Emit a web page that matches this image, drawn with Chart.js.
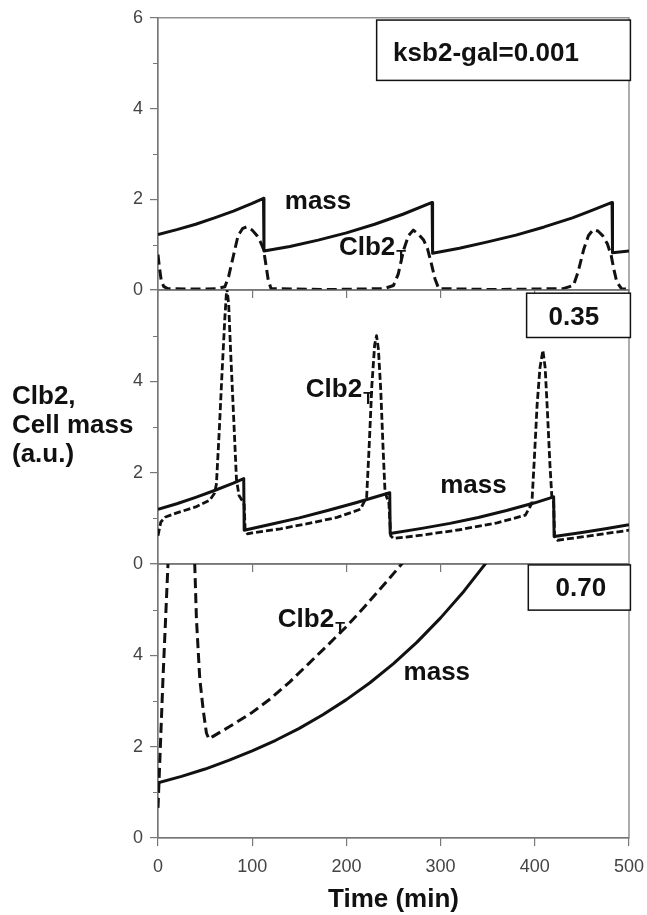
<!DOCTYPE html>
<html>
<head>
<meta charset="utf-8">
<script src="https://cdn.jsdelivr.net/npm/chart.js@4.4.1/dist/chart.umd.min.js"></script>
<style>
  html, body { margin: 0; padding: 0; background: #fff; }
  #wrap { position: relative; width: 647px; height: 915px; }
  #wrap canvas { position: absolute; left: 0; top: 0; }
  #ytitle {
    position: absolute; left: 12px; top: 381px;
    font: bold 26px 'Liberation Sans', Arial, sans-serif;
    line-height: 29px; color: #111;
  }
</style>
</head>
<body>
<div id="wrap">
  <canvas id="panelA" width="647" height="915"></canvas>
  <canvas id="panelB" width="647" height="915"></canvas>
  <canvas id="panelC" width="647" height="915"></canvas>
  <div id="ytitle">Clb2,<br>Cell mass<br>(a.u.)</div>
</div>
<script>
const FONT = "'Liberation Sans', Arial, sans-serif";

// axis ticks shared by the three panels
const timeTicks = [0, 100, 200, 300, 400, 500];
const yLabelTicks = [0, 2, 4, 6];
const yMinorTicks = [1, 3, 5];

// panel A: ksb2-gal = 0.001
const massTimeA = [0, 20, 40, 60, 80, 100, 112, 112.5, 140, 170, 200, 230, 260, 291, 291.5, 320, 350, 380, 410, 440, 460, 482, 482.5, 500];
const massA = [1.22, 1.33, 1.45, 1.59, 1.74, 1.91, 2.02, 0.86, 0.96, 1.10, 1.26, 1.45, 1.67, 1.93, 0.81, 0.92, 1.06, 1.21, 1.39, 1.59, 1.75, 1.93, 0.82, 0.86];
const clbTimeA = [0, 1.5, 3.5, 6, 10, 40, 62, 71, 75, 80, 85, 90, 94, 100, 105, 109, 112, 115, 117, 120,
  180, 240, 250, 255, 261, 266, 271, 277, 282, 286, 290, 294, 298, 360, 430, 441, 446, 452, 457, 462, 467, 472, 477, 481, 484, 487, 492, 500];
const clbA = [0.78, 0.5, 0.2, 0.08, 0.03, 0.02, 0.03, 0.07, 0.3, 0.75, 1.2, 1.36, 1.39, 1.32, 1.2, 1.05, 0.9, 0.5, 0.22, 0.03,
  0.01, 0.03, 0.1, 0.35, 0.9, 1.2, 1.32, 1.22, 1.1, 0.92, 0.6, 0.25, 0.03, 0.01, 0.03, 0.1, 0.4, 0.9, 1.2, 1.33, 1.3, 1.2, 1.02, 0.77, 0.45, 0.18, 0.03, 0.02];

// panel B: 0.35
const massTimeB = [0, 20, 40, 60, 80, 91, 91.5, 120, 150, 180, 210, 246, 246.5, 280, 310, 340, 370, 400, 420, 420.5, 450, 475, 500];
const massB = [1.2, 1.32, 1.46, 1.61, 1.77, 1.87, 0.74, 0.87, 1.01, 1.17, 1.34, 1.56, 0.67, 0.78, 0.89, 1.02, 1.17, 1.34, 1.47, 0.6, 0.69, 0.77, 0.86];
const clbTimeB = [0, 3, 8, 20, 40, 55, 60, 62, 65, 68, 71, 73, 75, 77, 79, 81, 83.3, 86, 89, 91.5, 92.5, 95, 100, 130, 160,
  190, 215, 221.5, 224, 227, 230, 232, 234, 236.5, 239, 241, 243, 245, 247, 250,
  280, 320, 360, 390, 396.9, 399.5, 402.5, 405.5, 408.6, 411, 413.5, 416, 418.1, 420, 421, 424, 460, 500];
const clbB = [0.62, 0.92, 1.03, 1.12, 1.25, 1.4, 1.55, 1.75, 2.9, 4.2, 5.4, 6.05, 5.7, 4.7, 3.8, 2.9, 1.85, 1.5, 1.4, 1.3, 0.75, 0.66, 0.68, 0.77, 0.89,
  1.02, 1.2, 1.47, 2.5, 3.9, 4.8, 5.0, 4.7, 3.8, 2.5, 1.58, 1.45, 1.38, 0.62, 0.56,
  0.63, 0.75, 0.9, 1.07, 1.33, 2.3, 3.5, 4.3, 4.68, 4.3, 3.3, 2.2, 1.47, 1.35, 0.6, 0.52, 0.62, 0.74];

// panel C: 0.70
const massTimeC = [0, 25, 50, 75, 100, 125, 150, 175, 200, 225, 250, 275, 300, 325, 350, 375];
const massC = [1.21, 1.35, 1.51, 1.70, 1.91, 2.14, 2.40, 2.70, 3.03, 3.40, 3.82, 4.29, 4.82, 5.41, 6.07, 6.8];
const clbTimeC = [0, 5.3, 10.6, 15, 22, 30, 36, 39, 40.8, 44.3, 48, 51.4, 54, 58, 76, 100, 120, 140, 160, 180, 200, 220, 240, 260, 275];
const clbC = [0.66, 3.5, 6.0, 7.6, 8.4, 8.0, 6.9, 6.0, 4.8, 3.5, 2.8, 2.3, 2.17, 2.22, 2.44, 2.75, 3.06, 3.42, 3.82, 4.22, 4.63, 5.08, 5.55, 6.03, 6.42];

function zip(xs, ys) {
  return xs.map((t, i) => ({ x: t, y: ys[i] }));
}

// frame, short minor ticks, in-plot labels and the parameter box
const panelNotes = {
  id: 'panelNotes',
  beforeDatasetsDraw(chart) {
    const { ctx, chartArea: a, scales: { y } } = chart;
    ctx.save();
    ctx.strokeStyle = '#777';
    ctx.lineWidth = 1.2;
    ctx.strokeRect(a.left, a.top, a.right - a.left, a.bottom - a.top);
    ctx.beginPath();
    yMinorTicks.forEach(v => {
      const py = Math.round(y.getPixelForValue(v)) + 0.5;
      ctx.moveTo(a.left - 5, py);
      ctx.lineTo(a.left, py);
    });
    ctx.stroke();
    ctx.restore();
  },
  afterDatasetsDraw(chart, args, opts) {
    const { ctx, scales: { x, y } } = chart;
    ctx.save();
    ctx.textAlign = 'left';
    ctx.textBaseline = 'alphabetic';
    ctx.fillStyle = '#111';
    (opts.labels || []).forEach(l => {
      const px = x.getPixelForValue(l.x);
      const py = y.getPixelForValue(l.y);
      ctx.font = 'bold 26px ' + FONT;
      ctx.fillText(l.text, px, py);
      if (l.sub) {
        const w = ctx.measureText(l.text).width;
        ctx.font = 'bold 16px ' + FONT;
        ctx.fillText(l.sub, px + w + 1, py + 7);
      }
    });
    const b = opts.box;
    if (b) {
      const x0 = x.getPixelForValue(b.x0), x1 = x.getPixelForValue(b.x1);
      const y0 = y.getPixelForValue(b.top), y1 = y.getPixelForValue(b.bottom);
      ctx.fillStyle = '#fff';
      ctx.fillRect(x0, y0, x1 - x0, y1 - y0);
      ctx.strokeStyle = '#111';
      ctx.lineWidth = 1.5;
      ctx.strokeRect(x0, y0, x1 - x0, y1 - y0);
      ctx.fillStyle = '#111';
      ctx.font = 'bold 26px ' + FONT;
      ctx.fillText(b.text, x.getPixelForValue(b.tx), y.getPixelForValue(b.ty));
    }
    ctx.restore();
  }
};

function makePanel(id, p) {
  return new Chart(document.getElementById(id), {
    type: 'line',
    data: {
      datasets: [
        {
          label: 'mass',
          data: zip(p.massT, p.mass),
          borderColor: '#111',
          borderWidth: 3,
          pointRadius: 0,
          tension: 0,
          borderJoinStyle: 'round'
        },
        {
          label: 'Clb2T',
          data: zip(p.clbT, p.clb),
          borderColor: '#111',
          borderWidth: p.dashWidth,
          borderDash: p.dash,
          pointRadius: 0,
          tension: 0,
          borderJoinStyle: 'round'
        }
      ]
    },
    options: {
      responsive: false,
      animation: false,
      events: [],
      layout: { padding: { left: 0, right: 18, top: p.top, bottom: p.bottom } },
      scales: {
        x: {
          type: 'linear',
          min: 0,
          max: 500,
          afterBuildTicks: s => { s.ticks = timeTicks.map(v => ({ value: v })); },
          afterFit: s => { s.height = p.xHeight; s.paddingLeft = 0; s.paddingRight = 0; },
          grid: { drawOnChartArea: false, tickLength: 8, color: '#777', lineWidth: 1.2 },
          border: { color: '#777', width: 1.2 },
          ticks: {
            display: p.xLabels,
            padding: 10,
            color: '#444',
            font: { size: 18, family: FONT },
            maxRotation: 0
          },
          title: {
            display: p.xLabels,
            text: 'Time (min)',
            color: '#111',
            font: { size: 26, weight: 'bold', family: FONT },
            padding: { top: 0, bottom: 0 }
          }
        },
        y: {
          min: 0,
          max: 6,
          afterBuildTicks: s => { s.ticks = yLabelTicks.map(v => ({ value: v })); },
          afterFit: s => { s.width = 158; },
          grid: { drawOnChartArea: false, tickLength: 8, color: '#777', lineWidth: 1.2 },
          border: { color: '#777', width: 1.2 },
          ticks: {
            autoSkip: false,
            padding: 7,
            color: '#444',
            font: { size: 18, family: FONT },
            callback: v => (p.showTop || v < 6) ? String(v) : ''
          }
        }
      },
      plugins: {
        legend: { display: false },
        tooltip: { enabled: false },
        panelNotes: { labels: p.labels, box: p.box }
      }
    },
    plugins: [panelNotes]
  });
}

makePanel('panelA', {
  massT: massTimeA, mass: massA, clbT: clbTimeA, clb: clbA,
  dashWidth: 3, dash: [10, 5],
  top: 16, bottom: 915 - 290 - 10, xHeight: 10, xLabels: false, showTop: true,
  labels: [
    { text: 'mass', x: 134.6, y: 1.79 },
    { text: 'Clb2', sub: 'T', x: 192.1, y: 0.77 }
  ],
  box: { text: 'ksb2-gal=0.001', x0: 232.1, x1: 501.5, top: 5.95, bottom: 4.62, tx: 249.6, ty: 5.04 }
});

makePanel('panelB', {
  massT: massTimeB, mass: massB, clbT: clbTimeB, clb: clbB,
  dashWidth: 2.8, dash: [7, 3],
  top: 290, bottom: 915 - 564 - 10, xHeight: 10, xLabels: false, showTop: false,
  labels: [
    { text: 'Clb2', sub: 'T', x: 156.9, y: 3.66 },
    { text: 'mass', x: 299.6, y: 1.55 }
  ],
  box: { text: '0.35', x0: 391.3, x1: 501.5, top: 5.93, bottom: 4.96, tx: 414.6, ty: 5.23 }
});

makePanel('panelC', {
  massT: massTimeC, mass: massC, clbT: clbTimeC, clb: clbC,
  dashWidth: 3, dash: [10, 5],
  top: 564, bottom: 0, xHeight: 915 - 838, xLabels: true, showTop: false,
  labels: [
    { text: 'Clb2', sub: 'T', x: 127.2, y: 4.63 },
    { text: 'mass', x: 260.7, y: 3.47 }
  ],
  box: { text: '0.70', x0: 393.1, x1: 501.5, top: 5.98, bottom: 4.99, tx: 422, ty: 5.3 }
});
</script>
</body>
</html>
